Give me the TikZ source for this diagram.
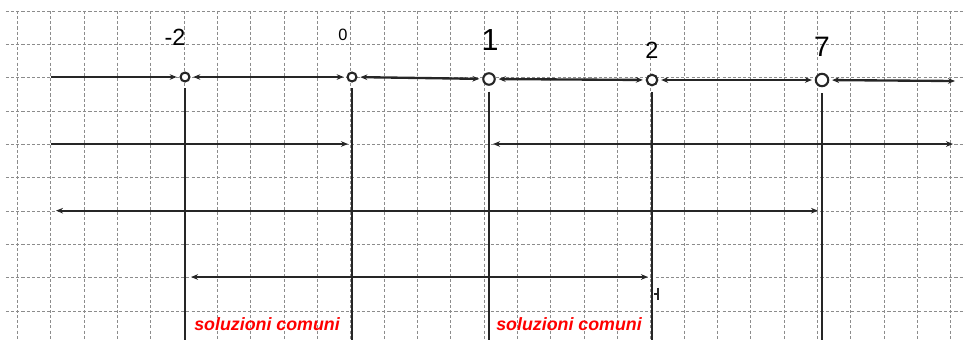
\documentclass[tikz,border=0pt]{standalone}
\usepackage{fontspec}
\setmainfont{Liberation Sans}
\usetikzlibrary{arrows.meta}

\begin{document}
\begin{tikzpicture}[x=0.5cm,y=0.5cm,>={Stealth[length=3pt,width=2.4pt]},
  griglia/.style={black!45,line width=0.3pt,dash pattern=on 1.3pt off 0.9pt},
  retta/.style={line width=1pt,black!85},
  punto/.style={circle,draw=black!85,line width=0.9pt,fill=white,inner sep=0pt,minimum size=#1},
  cifra/.style={font=\fontsize{#1}{#1}\selectfont},
  soluz/.style={text=red,font=\fontsize{7.6}{9}\selectfont\bfseries\itshape}]
  \useasboundingbox (0,0) rectangle (28.95,-10.2);
  \foreach \i in {0,...,28}
    \draw[griglia] (0.52+\i,-0.33) -- (0.52+\i,-10.2);
  \foreach \j in {0,...,9}
    \draw[griglia] (0.18,-0.33-\j) -- (28.95,-0.33-\j);

  % punti sulla retta
  \node[punto=3.8pt] (m2) at (5.55,-2.31) {};
  \node[punto=3.8pt] (zero) at (10.56,-2.31) {};
  \node[punto=4.9pt] (uno) at (14.67,-2.37) {};
  \node[punto=4.5pt] (due) at (19.56,-2.40) {};
  \node[punto=5.3pt] (sette) at (24.66,-2.40) {};
  \coordinate (inizio) at (1.53,-2.31);
  \coordinate (fine) at (28.65,-2.43);
  \coordinate (basso) at (0,-10.2);

  \node[cifra=10] (lm2) at (5.25,-1.11) {-2};
  \node[cifra=7] (lzero) at (10.29,-1.05) {0};
  \node[cifra=13] (luno) at (14.7,-1.2) {1};
  \node[cifra=10] (ldue) at (19.56,-1.5) {2};
  \node[cifra=12] (lsette) at (24.66,-1.41) {7};

  \draw[retta,->,shorten >=1.2pt] (inizio) -- (m2);
  \draw[retta,<->,shorten <=1.2pt,shorten >=1.2pt] (m2) -- (zero);
  \draw[retta,<->,shorten <=1.2pt,shorten >=1.2pt] (zero) -- (uno);
  \draw[retta,<->,shorten <=1.2pt,shorten >=1.2pt] (uno) -- (due);
  \draw[retta,<->,shorten <=1.2pt,shorten >=1.2pt] (due) -- (sette);
  \draw[retta,<->,shorten <=1.2pt] (sette) -- (fine);

  % linee verticali
  \foreach \p in {m2,zero,uno,due,sette}
    \draw[retta,shorten <=2.5pt] (\p) -- (\p |- basso);

  % segni
  \coordinate (r2a) at (1.53,-4.32);
  \coordinate (r2b) at (10.44,-4.32);
  \coordinate (r2c) at (14.79,-4.32);
  \coordinate (r2d) at (28.59,-4.32);
  \coordinate (r3a) at (1.68,-6.32);
  \coordinate (r3b) at (24.54,-6.32);
  \coordinate (r4a) at (5.73,-8.31);
  \coordinate (r4b) at (19.44,-8.31);
  \coordinate (t1) at (19.62,-8.82);
  \coordinate (t2) at (19.76,-8.82);
  \draw[retta,->] (r2a) -- (r2b);
  \draw[retta,<->] (r2c) -- (r2d);
  \draw[retta,<->] (r3a) -- (r3b);
  \draw[retta,<->] (r4a) -- (r4b);
  \draw[line width=0.6pt,black!85,-|] (t1) -- (t2);

  \node[soluz] (sol1) at (8.01,-9.72) {soluzioni comuni};
  \node[soluz] (sol2) at (17.07,-9.72) {soluzioni comuni};
\end{tikzpicture}
\end{document}
